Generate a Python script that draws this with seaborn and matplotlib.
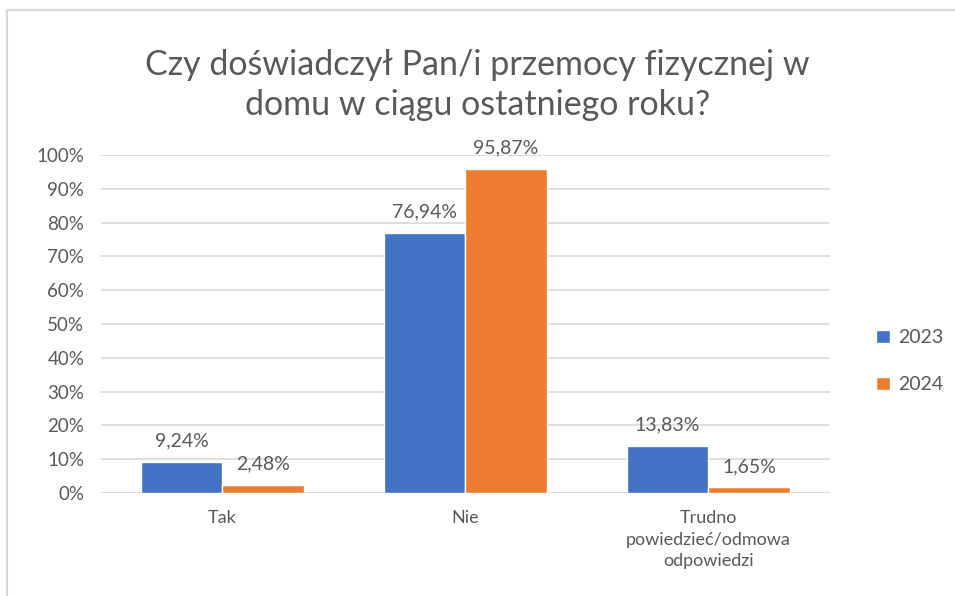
import pandas as pd
import matplotlib.pyplot as plt
import seaborn as sns
from matplotlib.patches import Rectangle

# Data
categories = ['Tak', 'Nie', 'Trudno\npowiedzieć/odmowa\nodpowiedzi']
years = ['2023', '2024']
values_2023 = [9.24, 76.94, 13.83]
values_2024 = [2.48, 95.87, 1.65]

df = pd.DataFrame({
    'kategoria': categories * 2,
    'rok': [years[0]] * 3 + [years[1]] * 3,
    'procent': values_2023 + values_2024,
})

sns.set_style('white')
plt.rcParams['font.family'] = ['Lato', 'DejaVu Sans']
text_col = '#595959'

fig = plt.figure(figsize=(9.55, 5.96), dpi=100)
ax = fig.add_axes([0.1058, 0.1728, 0.763, 0.567])

sns.barplot(data=df, x='kategoria', y='procent', hue='rok', ax=ax,
            palette=['#4472C4', '#ED7D31'], saturation=1, width=0.67)

ax.set_ylim(0, 100)
ax.set_yticks(range(0, 101, 10))
ax.set_yticklabels([f'{v}%' for v in range(0, 101, 10)])
ax.grid(axis='y', color='#D9D9D9', linewidth=1.2)
ax.set_axisbelow(True)
for s in ax.spines.values():
    s.set_visible(False)
ax.axhline(0, color='#D9D9D9', linewidth=1.2, zorder=0)
ax.tick_params(axis='y', labelsize=13.5, colors=text_col, length=0, pad=12)
ax.tick_params(axis='x', labelsize=13, colors=text_col, length=0, pad=12)
for lbl in ax.get_xticklabels():
    lbl.set_linespacing(1.45)
ax.set_xlabel('')
ax.set_ylabel('')

for cont in ax.containers:
    labels = [f'{b.get_height():.2f}%'.replace('.', ',') for b in cont]
    ax.bar_label(cont, labels=labels, padding=9, fontsize=14, color=text_col)

ax.legend(loc='center left', bbox_to_anchor=(1.04, 0.39), frameon=False,
          fontsize=14, labelcolor=text_col, handlelength=0.7, handleheight=0.7,
          labelspacing=1.55, handletextpad=0.4)

fig.text(0.5, 0.857, 'Czy doświadczył Pan/i przemocy fizycznej w\ndomu w ciągu ostatniego roku?',
         ha='center', va='center', fontsize=24.5, color=text_col, linespacing=1.3)

# chart border
fig.patches.append(Rectangle((7 / 955, -0.1), 1.2, 1.1 - 10 / 596,
                             transform=fig.transFigure, fill=False,
                             edgecolor='#D9D9D9', linewidth=1.5))

fig.savefig('out.png', dpi=100)
